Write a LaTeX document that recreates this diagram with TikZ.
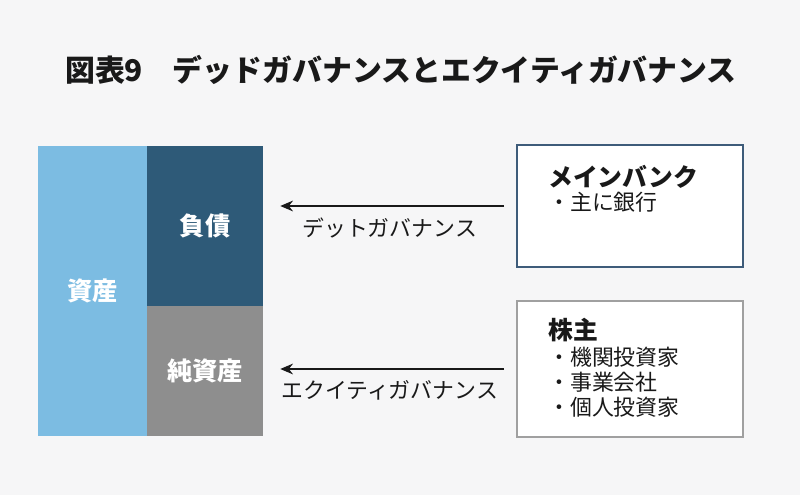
\documentclass[tikz,border=0pt]{standalone}
\usepackage{fontspec}
\setmainfont{Noto Sans CJK JP}
\usetikzlibrary{positioning,arrows.meta}

\definecolor{bgGray}{RGB}{246,246,247}
\definecolor{assetBlue}{RGB}{124,188,226}
\definecolor{debtBlue}{RGB}{46,90,120}
\definecolor{netGray}{RGB}{142,142,142}
\definecolor{bankLine}{RGB}{62,92,122}
\definecolor{holderLine}{RGB}{160,160,160}
\definecolor{inkBlack}{RGB}{25,25,25}

\tikzset{
  blk/.style={inner sep=0pt, text=white, font=\fontsize{19}{22}\selectfont\bfseries},
  party/.style={draw, line width=1.5pt, fill=white, minimum width=169.5pt},
  gov/.style={line width=1.9pt, draw=inkBlack, -{Stealth[length=9.5pt,width=8pt]}},
  govlbl/.style={inner sep=0pt, text=inkBlack, font=\fontsize{16.4}{19}\selectfont},
  head/.style={anchor=west, inner sep=0pt, text=inkBlack, font=\fontsize{18.6}{22}\selectfont\bfseries},
  item/.style={anchor=north west, inner sep=0pt, align=left, text=inkBlack, font=\fontsize{16.4}{18.75}\selectfont}
}

\begin{document}
\begin{tikzpicture}[x=0.75pt,y=0.75pt,yscale=-1,xscale=1]
\fill[bgGray] (0,0) rectangle (800,495);
\path[use as bounding box] (0,0) rectangle (800,495);

% title
\node (title) at (401,70) [inner sep=0pt, text=inkBlack, font=\fontsize{22.4}{26}\selectfont\bfseries] {図表9　デッドガバナンスとエクイティガバナンス};

% balance sheet
\node (asset) at (92.5,291) [blk, fill=assetBlue, minimum width=81.75pt, minimum height=217.5pt] {資産};
\node (debt) at (205,226) [blk, fill=debtBlue, minimum width=87pt, minimum height=120pt] {負債};
\node (net) at (205,371) [blk, fill=netGray, minimum width=87pt, minimum height=97.5pt] {純資産};

% main bank
\node (bank) at (630,206) [party, draw=bankLine, minimum height=91.5pt] {};
\node (banktitle) at (548,177) [head] {メインバンク};
\node (bankitem) at (548,192) [item] {・主に銀行};

% shareholders
\node (holder) at (630,369) [party, draw=holderLine, minimum height=102pt] {};
\node (holdertitle) at (548,330) [head] {株主};
\node (holderitem) at (548,347) [item] {・機関投資家\\・事業会社\\・個人投資家};

% governance arrows
\draw[gov, shorten <=9pt, shorten >=12.75pt] (bank.west) -- (debt.east |- bank.west)
  node (debtlbl) [midway, below=8pt, govlbl] {デットガバナンス};
\draw[gov, shorten <=9pt, shorten >=12.75pt] (holder.west) -- (net.east |- holder.west)
  node (equitylbl) [midway, below=8pt, govlbl] {エクイティガバナンス};

\end{tikzpicture}
\end{document}
